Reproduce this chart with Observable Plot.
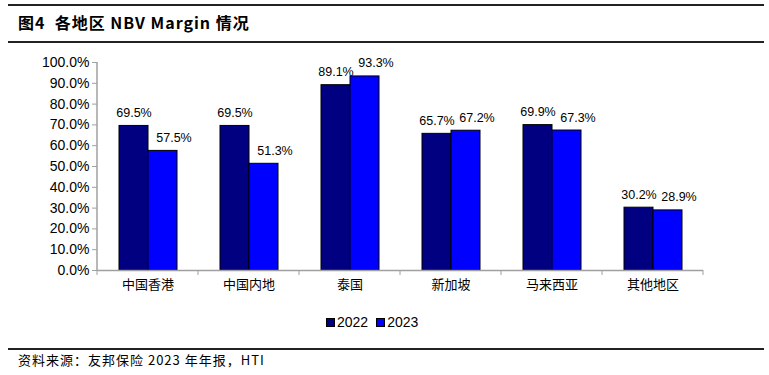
<!DOCTYPE html>
<html><head><meta charset="utf-8">
<script src="https://cdn.jsdelivr.net/npm/d3@7"></script>
<script src="https://cdn.jsdelivr.net/npm/@observablehq/plot@0.6"></script>
<style>
body{margin:0;background:#fff;}
#wrap{position:relative;width:769px;height:375px;overflow:hidden;font-family:"Liberation Sans",Arial,sans-serif;}
.rule{position:absolute;left:8px;width:756px;height:2px;background:#222;}
#title{position:absolute;left:18px;top:11px;font-family:"Noto Sans CJK SC","Liberation Sans",sans-serif;font-weight:bold;font-size:16px;line-height:22px;letter-spacing:1px;color:#000;white-space:pre;}
#chart{position:absolute;left:0;top:46px;}
#legend{position:absolute;top:314px;left:326px;font-size:14px;line-height:16px;color:#000;display:flex;align-items:center;}
#legend .sw{display:inline-block;width:7px;height:7px;border:1px solid #000;margin-right:2px;}
#legend .item{display:flex;align-items:center;margin-right:8px;}
#caption{position:absolute;left:18px;top:351px;font-family:"Noto Sans CJK SC",sans-serif;font-size:13px;line-height:18px;letter-spacing:1px;color:#000;white-space:pre;}
</style>
</head><body>
<div id="wrap">
  <div class="rule" style="top:4px"></div>
  <div id="title">图4  各地区 NBV Margin 情况</div>
  <div class="rule" style="top:41px"></div>
  <div id="chart"></div>
  <div id="legend"></div>
  <div class="rule" style="top:348px"></div>
  <div id="caption">资料来源：友邦保险 2023 年年报，HTI</div>
</div>
<script>
const categories = ["中国香港","中国内地","泰国","新加坡","马来西亚","其他地区"];
const years = ["2022","2023"];
const v2022 = [69.5, 69.5, 89.1, 65.7, 69.9, 30.2];
const v2023 = [57.5, 51.3, 93.3, 67.2, 67.3, 28.9];
const yTicks = [0,10,20,30,40,50,60,70,80,90,100];
const colors = ["#000080","#0000FF"];

const data = categories.flatMap((c,i)=>[
  {cat:c, year:years[0], v:v2022[i]},
  {cat:c, year:years[1], v:v2023[i]}
]);
const fmt = d=>d.v.toFixed(1)+"%";

const axisColor = "#a0a0a0";
const plot = Plot.plot({
  width:769, height:256,
  marginLeft:97, marginRight:66, marginTop:16, marginBottom:32,
  style:{fontFamily:"Liberation Sans, Arial, sans-serif", fontSize:"13px", color:"#000", background:"transparent", overflow:"visible"},
  fx:{domain:categories, padding:0, label:null},
  x:{domain:years, paddingInner:0, paddingOuter:0.74, axis:null},
  y:{domain:[0,100], label:null},
  color:{domain:years, range:colors},
  marks:[
    Plot.axisY({ticks:yTicks, tickFormat:d=>d.toFixed(1)+"%", tickSize:5, tickPadding:3, label:null, stroke:axisColor, fontSize:14}),
    Plot.axisFx({anchor:"bottom", tickSize:0, tickPadding:9, label:null, fontFamily:"Noto Sans CJK SC, sans-serif", fontSize:13}),
    Plot.barY(data, {fx:"cat", x:"year", y:"v", fill:"year", stroke:"#000", strokeWidth:1}),
    Plot.text(data.filter(d=>d.year===years[0]), {fx:"cat", x:"year", y:"v", text:fmt, dy:-13, fontSize:12.5, fill:"#000"}),
    Plot.text(data.filter(d=>d.year===years[1]), {fx:"cat", x:"year", y:"v", text:fmt, dy:-13, dx:11, fontSize:12.5, fill:"#000"}),
    Plot.ruleY([0], {stroke:axisColor, strokeWidth:1.5})
  ]
});

// y-axis line and category boundary ticks, positioned from Plot's scales
const svg = d3.select(plot.tagName === "svg" ? plot : plot.querySelector("svg"));
const fxS = plot.scale("fx"), yS = plot.scale("y");
const x0 = fxS.apply(categories[0]);
svg.append("line").attr("x1",x0).attr("x2",x0)
  .attr("y1",yS.apply(100)).attr("y2",yS.apply(0))
  .attr("stroke",axisColor).attr("stroke-width",1.5);
const bounds = categories.map(c=>fxS.apply(c)).concat([fxS.apply(categories[categories.length-1]) + fxS.bandwidth]);
bounds.forEach(b=>{
  svg.append("line").attr("x1",b).attr("x2",b)
    .attr("y1",yS.apply(0)).attr("y2",yS.apply(0)+5)
    .attr("stroke",axisColor).attr("stroke-width",1);
});
document.getElementById("chart").appendChild(plot);

const legend = document.getElementById("legend");
years.forEach((y,i)=>{
  const it = document.createElement("span"); it.className="item";
  const sw = document.createElement("span"); sw.className="sw"; sw.style.background = colors[i];
  it.appendChild(sw); it.appendChild(document.createTextNode(y));
  legend.appendChild(it);
});
</script>
</body></html>
